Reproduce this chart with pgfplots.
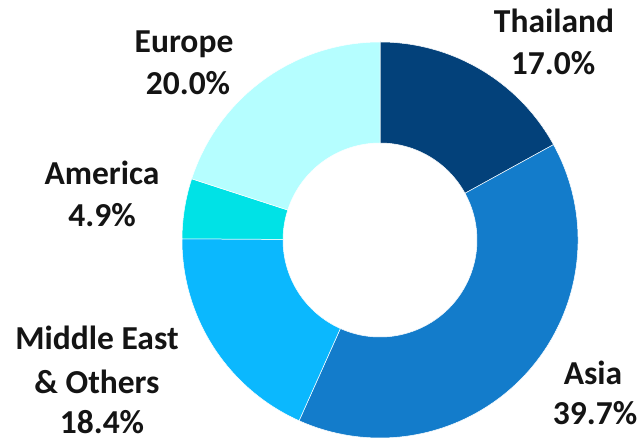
\documentclass[border=0pt]{standalone}
\usepackage{pgfplots}
\pgfplotsset{compat=1.18}
\usepackage{fontspec}
\setmainfont{Carlito}
\definecolor{cThai}{HTML}{03417A}
\definecolor{cAsia}{HTML}{137CCB}
\definecolor{cMid}{HTML}{0BB8FE}
\definecolor{cAme}{HTML}{00E2E6}
\definecolor{cEur}{HTML}{B5FEFF}
% shares in percent
\def\vThai{17.0}\def\vAsia{39.7}\def\vMid{18.4}\def\vAme{4.9}\def\vEur{20.0}
\pgfmathsetmacro\aA{90}
\pgfmathsetmacro\aB{\aA-3.6*\vThai}
\pgfmathsetmacro\aC{\aB-3.6*\vAsia}
\pgfmathsetmacro\aD{\aC-3.6*\vMid}
\pgfmathsetmacro\aE{\aD-3.6*\vAme}
\pgfmathsetmacro\aF{\aE-3.6*\vEur}
\def\Ro{198}\def\Ri{97}
\newcommand\sector[3]{%
  \fill[#1, draw=white, line width=0.5pt]
    (axis cs:{\Ro*cos(#2)},{\Ro*sin(#2)}) arc[start angle=#2, end angle=#3, radius=\Ro bp]
    -- (axis cs:{\Ri*cos(#3)},{\Ri*sin(#3)}) arc[start angle=#3, end angle=#2, radius=\Ri bp] -- cycle;}
\begin{document}
\begin{tikzpicture}[lab/.style={font=\fontsize{33.5bp}{40bp}\selectfont\bfseries, anchor=base, inner sep=0pt, text=black!92}]
\begin{axis}[x=1bp, y=1bp, xmin=-380, xmax=263, ymin=-202, ymax=240,
  enlargelimits=false, hide axis, clip=false, scale only axis]
\addplot[draw=none] coordinates {(-380,-202) (263,240)};
\sector{cThai}{\aA}{\aB}
\sector{cAsia}{\aB}{\aC}
\sector{cMid}{\aC}{\aD}
\sector{cAme}{\aD}{\aE}
\sector{cEur}{\aE}{\aF}
\node[lab] at (axis cs:174,207) {Thailand};
\node[lab] at (axis cs:173,165) {17.0\%};
\node[lab] at (axis cs:-196,187) {Europe};
\node[lab] at (axis cs:-192,145) {20.0\%};
\node[lab] at (axis cs:-278,55) {America};
\node[lab] at (axis cs:-278,13) {4.9\%};
\node[lab] at (axis cs:-283,-110) {Middle East};
\node[lab] at (axis cs:-283,-154) {\& Others};
\node[lab] at (axis cs:-278,-194) {18.4\%};
\node[lab] at (axis cs:213,-145) {Asia};
\node[lab] at (axis cs:215,-185) {39.7\%};
\end{axis}
\end{tikzpicture}
\end{document}
